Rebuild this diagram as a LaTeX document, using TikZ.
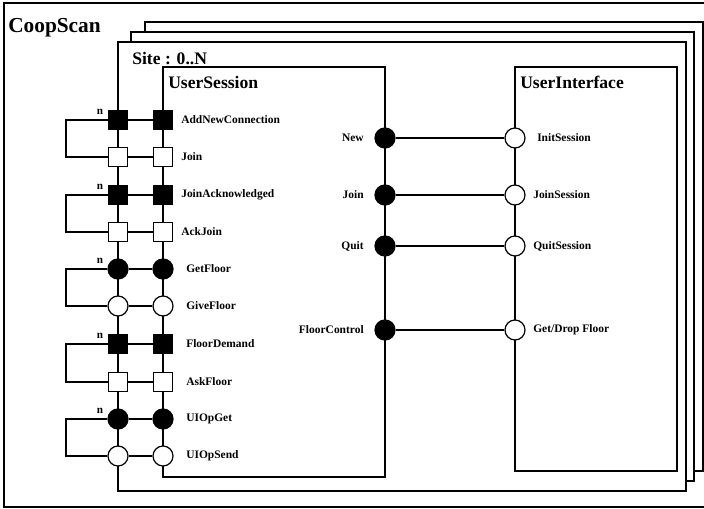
\documentclass[tikz,border=0pt]{standalone}
\usepackage{fontspec}
\setmainfont{Liberation Serif}
\usetikzlibrary{positioning,calc}
\tikzset{
  frame/.style={draw=black,line width=0.9pt,fill=white},
  inner frame/.style={draw=black,line width=0.9pt},
  wire/.style={draw=black,line width=0.9pt},
  sqfull/.style={rectangle,draw=black,line width=0.9pt,fill=black,minimum size=14pt,inner sep=0pt},
  sqopen/.style={sqfull,fill=white},
  dotfull/.style={circle,draw=black,line width=0.9pt,fill=black,minimum size=15pt,inner sep=0pt},
  dotopen/.style={dotfull,fill=white},
  portlabel/.style={font=\fontsize{8.6}{10}\selectfont\bfseries,inner sep=0pt},
  boxtitle/.style={font=\fontsize{13.2}{15}\selectfont\bfseries,inner sep=0pt,anchor=base west},
  multlabel/.style={font=\fontsize{8.4}{9}\selectfont\bfseries,inner sep=0pt,anchor=base}
}

\begin{document}
\begin{tikzpicture}[x=0.75pt,y=-0.75pt]
  \useasboundingbox (0,0) rectangle (704,508);
  % outer frame, cut at the right
  \draw[wire] (704,3) -- (4,3) -- (4,507) -- (704,507);
  \node[boxtitle,font=\fontsize{16}{18}\selectfont\bfseries] (coop) at (8,32) {CoopScan};
  % stacked sites
  \draw[frame] (145,22) rectangle (703,471);
  \draw[frame] (131,32) rectangle (694,481);
  \draw[frame] (118,42) rectangle (686,491);
  \node[boxtitle] (site) at (132,64) {Site : 0..N};
  \draw[inner frame] (163,67) rectangle (385,477);
  \node[boxtitle] (usess) at (168,88) {UserSession};
  \draw[inner frame] (515,67) rectangle (677,471);
  \node[boxtitle] (uiface) at (520,88) {UserInterface};
  \coordinate (loopx) at (66,0);

  % connection ports of the site
  \foreach \nm/\y/\shp/\lab/\lx in {add/120/sqfull/AddNewConnection/181,
      join/157/sqopen/Join/181, jack/195/sqfull/JoinAcknowledged/181,
      ack/232/sqopen/AckJoin/181, get/269/dotfull/GetFloor/186,
      give/306/dotopen/GiveFloor/186, dem/344/sqfull/FloorDemand/186,
      ask/382/sqopen/AskFloor/186, opget/419/dotfull/UIOpGet/186,
      opsend/456/dotopen/UIOpSend/186} {
    \node[\shp] (\nm-o) at (118,\y) {};
    \node[\shp] (\nm-i) at (163,\y) {};
    \node[portlabel,anchor=west] (\nm-l) at (\lx,\y) {\lab};
    \draw[wire] (\nm-o) -- (\nm-i);
  }
  \foreach \a/\b in {add/join, jack/ack, get/give, dem/ask, opget/opsend} {
    \draw[wire] (\a-o.west) -- (\a-o.west -| loopx) |- (\b-o.west);
    \node[multlabel] (\a-n) at ($(\a-o)+(-18,-6)$) {n};
  }

  % session to interface
  \foreach \nm/\y/\lab/\ui/\ulab/\ux in {new/138/New/init/InitSession/537,
      sjoin/195/Join/joinS/JoinSession/533, quit/246/Quit/quitS/QuitSession/533,
      fctl/330/FloorControl/gdfl/Get\slash Drop Floor/533} {
    \node[dotfull] (\nm) at (385,\y) {};
    \node[dotopen] (\ui) at (515,\y) {};
    \node[portlabel,anchor=east] (\nm-l) at (364,\y) {\lab};
    \node[portlabel,anchor=west] (\ui-l) at (\ux,\y) {\ulab};
    \draw[wire] (\nm) -- (\ui);
  }
\end{tikzpicture}
\end{document}
